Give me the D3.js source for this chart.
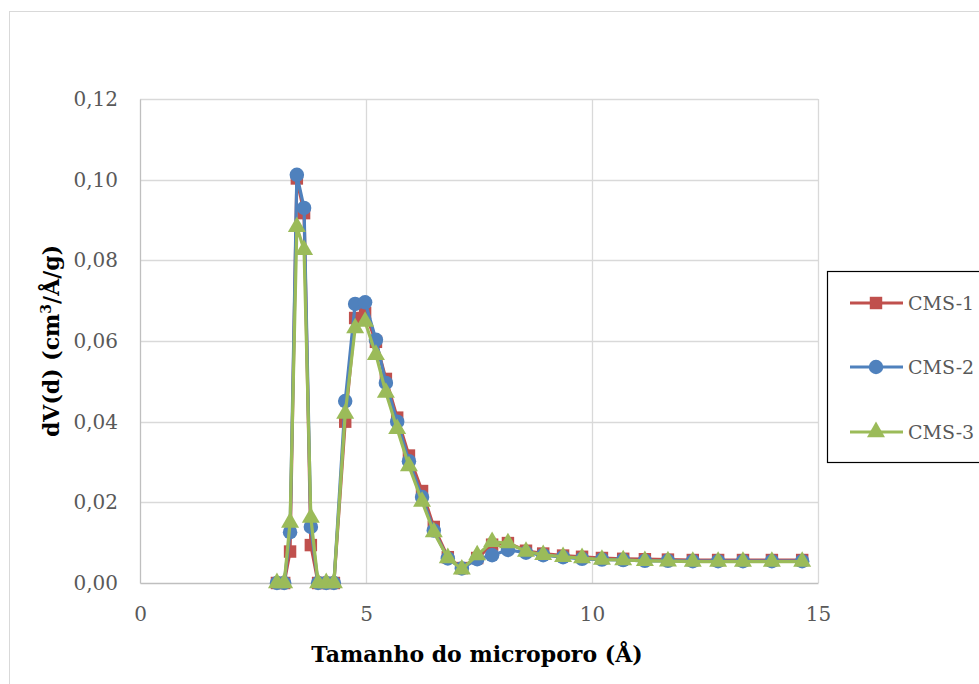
<!DOCTYPE html>
<html>
<head>
<meta charset="utf-8">
<script src="https://cdn.jsdelivr.net/npm/d3@7"></script>
<style>
  html, body { margin: 0; padding: 0; background: #ffffff; }
  svg { display: block; }
</style>
</head>
<body>
<svg id="chart" width="979" height="684"></svg>
<script>
// Pore sizes (Å) shared by all three samples
const poreSize = [3.03, 3.19, 3.32, 3.47, 3.63, 3.78, 3.94, 4.12, 4.29, 4.54, 4.76, 4.98,
  5.22, 5.44, 5.69, 5.95, 6.24, 6.50, 6.81, 7.12, 7.46, 7.79, 8.14, 8.54, 8.92, 9.36,
  9.78, 10.22, 10.69, 11.17, 11.68, 12.23, 12.79, 13.34, 13.98, 14.65];

// dV(d) values (cm³/Å/g)
const cms1 = [0, 0, 0.0078, 0.1003, 0.0917, 0.0094, 0, 0, 0, 0.0400, 0.0657, 0.0670,
  0.0598, 0.0506, 0.0410, 0.0316, 0.0228, 0.0139, 0.0064, 0.0037, 0.0062, 0.0095,
  0.0099, 0.0080, 0.0073, 0.0068, 0.0065, 0.0062, 0.0060, 0.0059, 0.0058, 0.0057,
  0.0057, 0.0057, 0.0057, 0.0057];
const cms2 = [0, 0, 0.0126, 0.1012, 0.0930, 0.0139, 0, 0, 0, 0.0451, 0.0692, 0.0696,
  0.0603, 0.0496, 0.0400, 0.0302, 0.0213, 0.0130, 0.0061, 0.0036, 0.0059, 0.0069,
  0.0082, 0.0075, 0.0069, 0.0064, 0.0060, 0.0058, 0.0057, 0.0055, 0.0055, 0.0054,
  0.0054, 0.0054, 0.0054, 0.0054];
const cms3 = [0, 0, 0.0150, 0.0883, 0.0826, 0.0162, 0, 0, 0, 0.0420, 0.0632, 0.0648,
  0.0566, 0.0472, 0.0382, 0.0290, 0.0202, 0.0126, 0.0062, 0.0034, 0.0069, 0.0102,
  0.0099, 0.0078, 0.0070, 0.0065, 0.0062, 0.0058, 0.0057, 0.0055, 0.0054, 0.0053,
  0.0053, 0.0053, 0.0053, 0.0053];

const seriesNames = ["CMS-1", "CMS-2", "CMS-3"];
const seriesColors = ["#C0504D", "#4F81BD", "#9BBB59"];
const seriesShapes = [d3.symbolSquare, d3.symbolCircle, d3.symbolTriangle];
const seriesSizes = [155, 165, 140];

const xTicks = [0, 5, 10, 15];
const yTicks = [0, 0.02, 0.04, 0.06, 0.08, 0.10, 0.12];

const xTitle = "Tamanho do microporo (Å)";
const serif = "'DejaVu Serif', 'Liberation Serif', serif";

const svg = d3.select("#chart");

// outer chart frame
svg.append("rect")
  .attr("x", 9.5).attr("y", 11.5)
  .attr("width", 1000).attr("height", 700)
  .attr("fill", "#ffffff").attr("stroke", "#d9d9d9").attr("stroke-width", 1);

const x = d3.scaleLinear().domain([0, 15]).range([140, 818]);
const y = d3.scaleLinear().domain([0, 0.12]).range([583, 99]);

// gridlines
const grid = svg.append("g");
grid.selectAll("line.h").data(yTicks.slice(1)).join("line")
  .attr("x1", x(0)).attr("x2", x(15))
  .attr("y1", d => Math.round(y(d)) + 0.5).attr("y2", d => Math.round(y(d)) + 0.5)
  .attr("stroke", "#d9d9d9").attr("stroke-width", 1.3);
grid.selectAll("line.v").data(xTicks.slice(1)).join("line")
  .attr("y1", y(0)).attr("y2", y(0.12))
  .attr("x1", d => Math.round(x(d)) + 0.5).attr("x2", d => Math.round(x(d)) + 0.5)
  .attr("stroke", "#d9d9d9").attr("stroke-width", 1.3);

// axes
const yAxis = d3.axisLeft(y).tickValues(yTicks).tickSize(0).tickPadding(22)
  .tickFormat(d => d3.format(".2f")(d).replace(".", ","));
const xAxis = d3.axisBottom(x).tickValues(xTicks).tickSize(0).tickPadding(24)
  .tickFormat(d => String(d));

const gy = svg.append("g").attr("transform", `translate(${x(0)},0)`).call(yAxis);
const gx = svg.append("g").attr("transform", `translate(0,${y(0)})`).call(xAxis);
[gy, gx].forEach(g => {
  g.select(".domain").attr("stroke", "#bfbfbf").attr("stroke-width", 1.3);
  g.selectAll("text").attr("font-family", serif).attr("font-size", 20)
    .attr("fill", "#595959");
});

// axis titles
svg.append("text")
  .attr("x", 477).attr("y", 662)
  .attr("text-anchor", "middle")
  .attr("font-family", serif).attr("font-weight", "bold").attr("font-size", 22)
  .attr("fill", "#000").text(xTitle);

const yt = svg.append("text")
  .attr("transform", "translate(59,341) rotate(-90)")
  .attr("text-anchor", "middle")
  .attr("font-family", serif).attr("font-weight", "bold").attr("font-size", 22)
  .attr("fill", "#000");
yt.append("tspan").text("dV(d) (cm");
yt.append("tspan").attr("baseline-shift", "super").attr("font-size", 14).text("3");
yt.append("tspan").text("/Å/g)");

// series
const allSeries = [cms1, cms2, cms3];
const line = d3.line().x(d => x(d[0])).y(d => y(d[1]));

allSeries.forEach((vals, i) => {
  const pts = poreSize.map((p, j) => [p, vals[j]]);
  const g = svg.append("g");
  g.append("path").datum(pts)
    .attr("d", line).attr("fill", "none")
    .attr("stroke", seriesColors[i]).attr("stroke-width", 3.2)
    .attr("stroke-linejoin", "round");
  g.selectAll("path.m").data(pts).join("path")
    .attr("class", "m")
    .attr("d", d3.symbol().type(seriesShapes[i]).size(seriesSizes[i]))
    .attr("transform", d => `translate(${x(d[0])},${y(d[1])})`)
    .attr("fill", seriesColors[i]);
});

// legend
const lg = svg.append("g");
lg.append("rect")
  .attr("x", 827.5).attr("y", 271.5).attr("width", 200).attr("height", 191)
  .attr("fill", "#ffffff").attr("stroke", "#000").attr("stroke-width", 1.2);
const legendY = [303, 367, 432];
seriesNames.forEach((name, i) => {
  const cy = legendY[i];
  lg.append("line")
    .attr("x1", 850).attr("x2", 903).attr("y1", cy).attr("y2", cy)
    .attr("stroke", seriesColors[i]).attr("stroke-width", 3.2);
  lg.append("path")
    .attr("d", d3.symbol().type(seriesShapes[i]).size(seriesSizes[i]))
    .attr("transform", `translate(876,${cy})`)
    .attr("fill", seriesColors[i]);
  lg.append("text")
    .attr("x", 908).attr("y", cy + 7)
    .attr("font-family", serif).attr("font-size", 19).attr("fill", "#595959")
    .text(name);
});
</script>
</body>
</html>
